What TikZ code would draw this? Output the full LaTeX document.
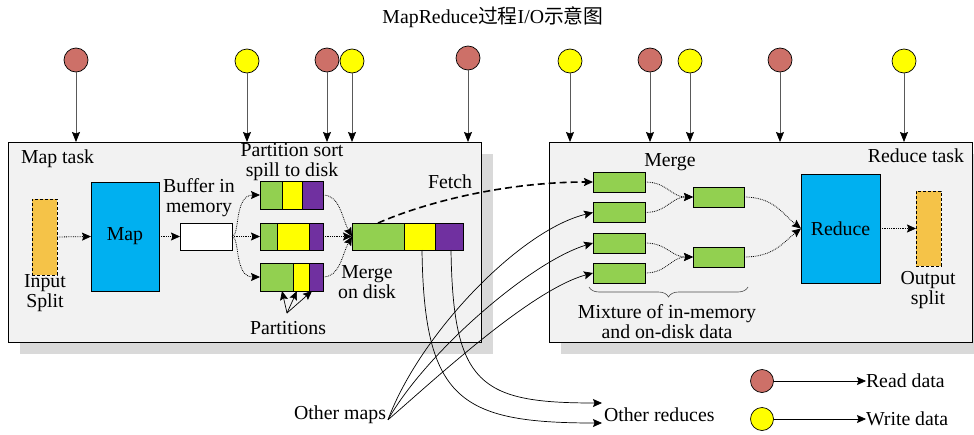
\documentclass[tikz,border=0pt]{standalone}
\usepackage{fontspec}
\setmainfont{Liberation Serif}
\newfontfamily\cjkfont{Noto Sans CJK SC}
\usetikzlibrary{arrows.meta,shadows,decorations.pathreplacing}

\definecolor{panelfill}{HTML}{F2F2F2}
\definecolor{panelshadow}{HTML}{D9D9D9}
\definecolor{readred}{RGB}{205,112,104}
\definecolor{writeyellow}{HTML}{FFFF00}
\definecolor{seggreen}{HTML}{92D050}
\definecolor{segyellow}{HTML}{FFFF00}
\definecolor{segpurple}{HTML}{7030A0}
\definecolor{taskcyan}{HTML}{00B0F0}
\definecolor{splitorange}{RGB}{245,195,72}

\begin{document}
\begin{tikzpicture}[x=1pt,y=-1pt,
  every node/.style={font=\fontsize{19.8}{20}\selectfont, inner sep=0pt, outer sep=0pt},
  panel/.style={rectangle, draw=black, line width=0.9pt, fill=panelfill,
    drop shadow={shadow xshift=12pt, shadow yshift=-12pt, fill=panelshadow, opacity=1}},
  box/.style={rectangle, draw=black, line width=0.8pt},
  seg/.style={box, minimum height=#1},
  splitbox/.style={rectangle, draw=black, line width=0.8pt, densely dashed, fill=splitorange,
    minimum width=25pt, minimum height=76pt},
  iocircle/.style={circle, draw=black, line width=0.7pt, minimum size=24pt},
  label/.style={align=center},
  arrowtip/.style={-{Stealth[length=9pt,width=8pt,inset=1.5pt]}},
  dotflow/.style={densely dotted, line width=0.8pt, arrowtip},
  solidflow/.style={line width=0.7pt, arrowtip},
  feed/.style={draw=black!65, line width=0.8pt, -{Stealth[length=10pt,width=8pt,inset=1.5pt,black]}},
]
\useasboundingbox (0,0) rectangle (974,434);

% title
\node (title) at (493,17) {MapReduce{\cjkfont 过程}I/O{\cjkfont 示意图}};

% the two task panels
\node[panel, minimum width=473pt, minimum height=200pt] (maptask) at (244.5,242) {};
\node[panel, minimum width=423pt, minimum height=200pt] (redtask) at (760.5,242) {};

\node[anchor=west] (maptasklbl) at (21,159) {Map task};
\node[anchor=east] (redtasklbl) at (964,156) {Reduce task};

% ---------- map side ----------
\node[splitbox] (insplit) at (44.5,237) {};
\node[label] (insplitlbl) at (45,293) {Input\\Split};
\node[box, fill=taskcyan, minimum width=68pt, minimum height=109pt] (map) at (125,236.5) {Map};
\node[box, fill=white, minimum width=52pt, minimum height=27pt] (buf) at (206,236.5) {};
\node[label] (buflbl) at (199,198) {Buffer in\\memory};

% spill files, one segment per partition
\node[seg=28pt, fill=seggreen,  minimum width=22pt] (p1a) at (271,195) {};
\node[seg=28pt, fill=segyellow, minimum width=20pt] (p1b) at (292,195) {};
\node[seg=28pt, fill=segpurple, minimum width=21pt] (p1c) at (312.5,195) {};
\node[seg=27pt, fill=seggreen,  minimum width=17pt] (p2a) at (268.5,236.5) {};
\node[seg=27pt, fill=segyellow, minimum width=32pt] (p2b) at (293,236.5) {};
\node[seg=27pt, fill=segpurple, minimum width=14pt] (p2c) at (316,236.5) {};
\node[seg=28pt, fill=seggreen,  minimum width=33pt] (p3a) at (276.5,277) {};
\node[seg=28pt, fill=segyellow, minimum width=16pt] (p3b) at (301,277) {};
\node[seg=28pt, fill=segpurple, minimum width=14pt] (p3c) at (316,277) {};
\node[label] (spilllbl) at (292,162) {Partition sort\\spill to disk};

% merged map output
\node[seg=27pt, fill=seggreen,  minimum width=52pt] (ma) at (378,236.5) {};
\node[seg=27pt, fill=segyellow, minimum width=31pt] (mb) at (419.5,236.5) {};
\node[seg=27pt, fill=segpurple, minimum width=28pt] (mc) at (449,236.5) {};
\node[label] (mergelbl) at (367,282) {Merge\\on disk};

\node (partlbl) at (288,328) {Partitions};
\coordinate (pfan) at (287,313);

\node (fetchlbl) at (450,182) {Fetch};

% map-side flow
\draw[dotflow] (insplit.east) -- (map.west);
\draw[dotflow] (map.east) -- (buf.west);
\draw[dotflow] (buf.east) .. controls +(8,0) and +(-26,0) .. (p1a.west);
\draw[dotflow] (buf.east) -- (p2a.west);
\draw[dotflow] (buf.east) .. controls +(8,0) and +(-26,0) .. (p3a.west);
\draw[dotflow] (p1c.east) .. controls +(17,0) and +(-10,-18) .. (ma.west);
\draw[dotflow] (p2c.east) -- (ma.west);
\draw[dotflow] (p3c.east) .. controls +(17,0) and +(-10,18) .. (ma.west);
\draw[solidflow] (pfan) -- ([xshift=5.5pt]p3a.south);
\draw[solidflow] (pfan) -- ([xshift=-4pt]p3b.south);
\draw[solidflow] (pfan) -- ([xshift=-4pt]p3c.south);

% ---------- reduce side ----------
\node (mergelbl2) at (670,162) {Merge};
\node[box, fill=seggreen, minimum width=52pt, minimum height=20pt] (r1) at (619,182) {};
\node[box, fill=seggreen, minimum width=52pt, minimum height=20pt] (r2) at (619,212.5) {};
\node[box, fill=seggreen, minimum width=52pt, minimum height=20pt] (r3) at (619,243) {};
\node[box, fill=seggreen, minimum width=52pt, minimum height=20pt] (r4) at (619,273) {};
\node[box, fill=seggreen, minimum width=51pt, minimum height=20pt] (ra) at (718.5,197) {};
\node[box, fill=seggreen, minimum width=51pt, minimum height=20pt] (rb) at (718.5,257) {};
\node[box, fill=taskcyan, minimum width=79pt, minimum height=109pt] (reduce) at (840.5,228.5) {Reduce};
\node[splitbox, minimum height=75pt] (outsplit) at (928.5,228.5) {};
\node[label] (outsplitlbl) at (928,290) {Output\\split};

\draw[decorate, decoration={brace, amplitude=10pt, mirror}, line width=0.6pt, draw=black!70]
  (589,287) -- (748,287);
\node[label] (mixlbl) at (667,322) {Mixture of in-memory\\and on-disk data};

\draw[dotflow] (r1.east) .. controls +(22,0) and +(-22,0) .. (ra.west);
\draw[dotflow] (r2.east) .. controls +(22,0) and +(-22,0) .. (ra.west);
\draw[dotflow] (r3.east) .. controls +(22,0) and +(-22,0) .. (rb.west);
\draw[dotflow] (r4.east) .. controls +(22,0) and +(-22,0) .. (rb.west);
\draw[dotflow] (ra.east) .. controls +(30,0) and +(-18,-14) .. (reduce.west);
\draw[dotflow] (rb.east) .. controls +(30,0) and +(-18,14) .. (reduce.west);
\draw[dotflow] (reduce.east) -- (outsplit.west);

% fetch of map output by the reducer
\draw[line width=1.6pt, dash pattern=on 7pt off 4pt, arrowtip]
  (ma.north) .. controls +(53,-23) and +(-83,0) .. (r1.west);

% other maps and other reduces
\node[anchor=east] (othermaps) at (386,415) {Other maps};
\node[anchor=west] (otherreds) at (604,415) {Other reduces};
\draw[solidflow] ([xshift=2pt]othermaps.base east) .. controls +(32,-86) and +(-73,17.5) .. (r2.west);
\draw[solidflow] ([xshift=2pt]othermaps.base east) .. controls +(37,-66) and +(-63,19) .. (r3.west);
\draw[solidflow] ([xshift=2pt]othermaps.base east) .. controls +(42,-36) and +(-63,17) .. (r4.west);
\draw[solidflow] ([xshift=2.5pt]mb.south) .. controls +(2,150) and +(-142,0) .. ([xshift=-2pt,yshift=-8pt]otherreds.west);
\draw[solidflow] ([xshift=2pt]mc.south) .. controls +(2,135) and +(-122,0) .. ([xshift=-2pt,yshift=12pt]otherreds.west);

% read / write points
\node[iocircle, fill=readred]     (c1)  at (76,60) {};
\node[iocircle, fill=writeyellow] (c2)  at (247,61) {};
\node[iocircle, fill=readred]     (c3)  at (327,60) {};
\node[iocircle, fill=writeyellow] (c4)  at (352,61) {};
\node[iocircle, fill=readred]     (c5)  at (468,58) {};
\node[iocircle, fill=writeyellow] (c6)  at (570,61) {};
\node[iocircle, fill=readred]     (c7)  at (650,60) {};
\node[iocircle, fill=writeyellow] (c8)  at (690,61) {};
\node[iocircle, fill=readred]     (c9)  at (780,60) {};
\node[iocircle, fill=writeyellow] (c10) at (904,61) {};
\foreach \c in {c1,c2,c3,c4,c5} \draw[feed] (\c) -- (\c |- maptask.north);
\foreach \c in {c6,c7,c8,c9,c10} \draw[feed] (\c) -- (\c |- redtask.north);

% legend
\node[iocircle, fill=readred, minimum size=23pt]     (lr) at (762,381) {};
\node[iocircle, fill=writeyellow, minimum size=23pt] (lw) at (762,419) {};
\node[anchor=west] (lrt) at (866,381) {Read data};
\node[anchor=west] (lwt) at (866,419) {Write data};
\draw[solidflow] (lr) -- (lrt.west);
\draw[solidflow] (lw) -- (lwt.west);
\end{tikzpicture}
\end{document}
